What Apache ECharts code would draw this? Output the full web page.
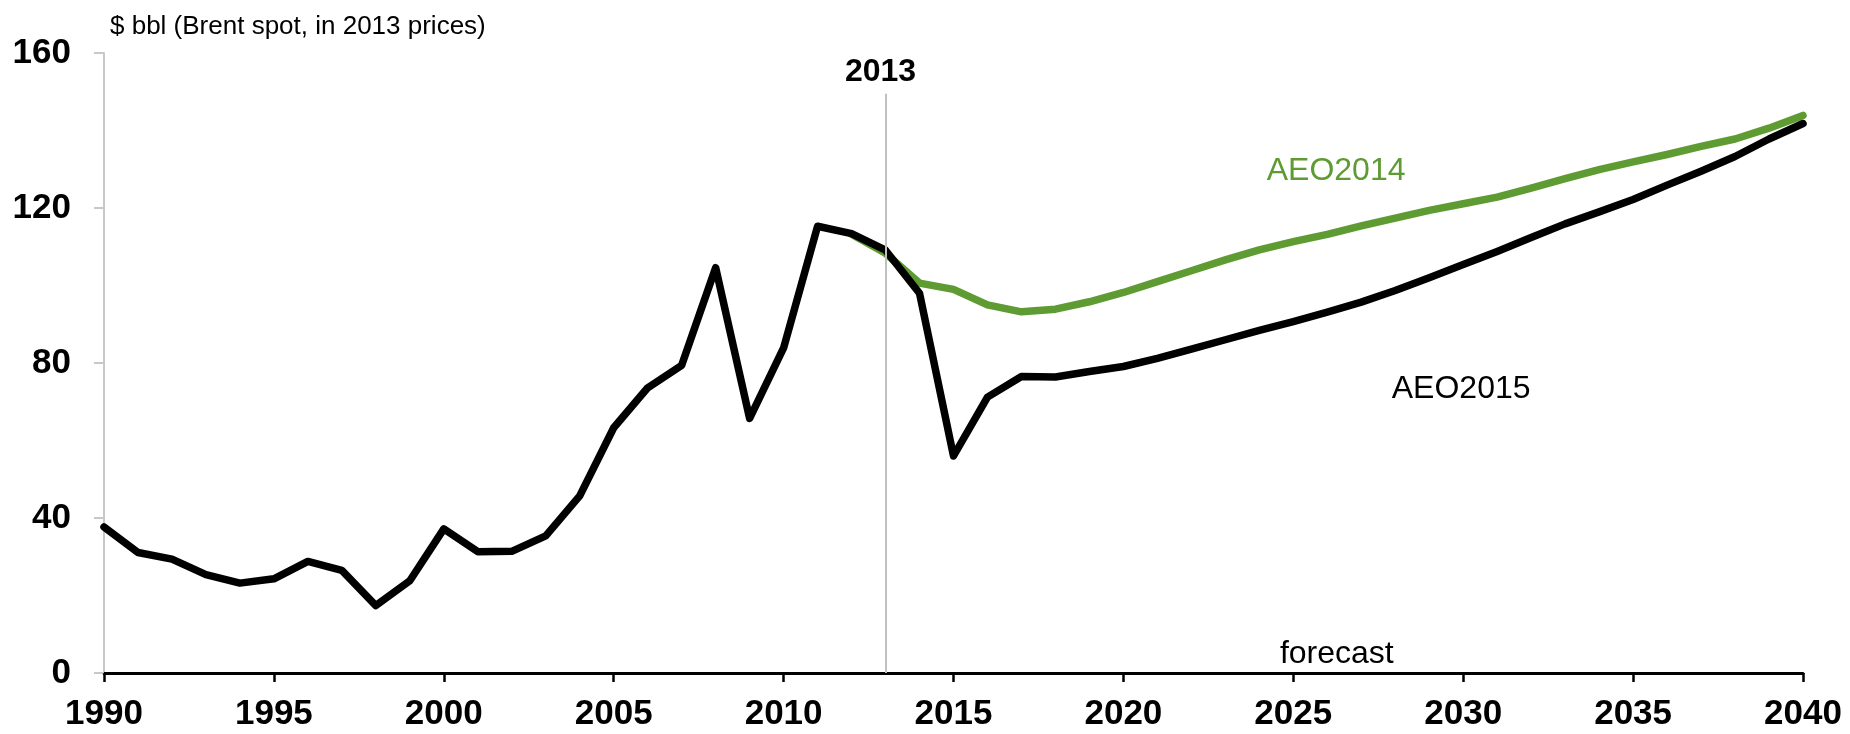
<!DOCTYPE html>
<html lang="en">
<head>
    <meta charset="UTF-8">
    <title>Brent spot price</title>
    <script src="https://cdn.jsdelivr.net/npm/echarts@6/dist/echarts.min.js"></script>
    <style>
        html, body { margin: 0; padding: 0; background: #fff; }
        #fig1 { width: 1850px; height: 734px; }
    </style>
</head>
<body>
    <div id="fig1"></div>
    <script>
        // years on the x axis
        let years = [];
        for (let y = 1990; y <= 2040; y++) years.push(y);

        // history 1990-2013 (black)
        let history = [37.7, 31.1, 29.4, 25.4, 23.2, 24.3, 28.8, 26.5, 17.4, 23.8,
            37.2, 31.3, 31.4, 35.4, 45.7, 63.3, 73.6, 79.4, 104.6, 65.7,
            83.9, 115.3, 113.4, 109.1];
        // AEO2015 forecast 2014-2040 (black)
        let aeo2015 = [98.0, 56.0, 71.2, 76.5, 76.4, 77.8, 79.1, 81.2, 83.6, 86.0,
            88.4, 90.7, 93.1, 95.7, 98.7, 102.0, 105.4, 108.8, 112.4, 115.9,
            119.0, 122.2, 125.9, 129.5, 133.3, 137.8, 141.8];
        // AEO2014 2012-2040 (green)
        let aeo2014Start = 2012;
        let aeo2014 = [113.2, 108.3, 100.6, 99.0, 95.0, 93.2, 93.9, 95.8, 98.2, 101.0,
            103.8, 106.6, 109.2, 111.3, 113.2, 115.4, 117.4, 119.4, 121.1, 122.8,
            125.1, 127.6, 129.9, 131.9, 133.8, 135.9, 137.8, 140.6, 143.9];

        let yTicks = [0, 40, 80, 120, 160];
        let baseYear = 2013;

        const FONT = '"Liberation Sans", Arial, sans-serif';
        const GREEN = '#5e9b32';

        let blackData = history.concat(aeo2015).map((v, i) => [years[i], v]);
        let greenData = aeo2014.map((v, i) => [aeo2014Start + i, v]);

        function note (text, coord, color, size, weight, offset) {
            return {
                coord: coord,
                symbol: 'circle',
                symbolSize: 1,
                itemStyle: { color: 'rgba(0,0,0,0)' },
                label: {
                    show: true,
                    position: 'inside',
                    formatter: text,
                    color: color,
                    fontFamily: FONT,
                    fontSize: size,
                    fontWeight: weight,
                    offset: offset || [0, 0]
                }
            };
        }

        let fig1 = echarts.init(document.getElementById('fig1'), null, {renderer: 'canvas'});
        fig1.setOption({
            animation: false,
            backgroundColor: '#fff',
            title: {
                text: '$ bbl (Brent spot, in 2013 prices)',
                left: 105,
                top: 9,
                textStyle: {
                    fontFamily: FONT,
                    fontSize: 26,
                    fontWeight: 'normal',
                    color: '#000'
                }
            },
            grid: {
                left: 104,
                right: 47,
                top: 53,
                bottom: 61,
                containLabel: false,
                outerBoundsMode: 'none'
            },
            xAxis: {
                type: 'value',
                min: 1990,
                max: 2040,
                interval: 5,
                splitLine: { show: false },
                axisLine: { show: true, lineStyle: { color: '#000', width: 3 } },
                axisTick: { show: true, length: 9, lineStyle: { color: '#000', width: 2.5 } },
                axisLabel: {
                    margin: 24,
                    color: '#000',
                    fontFamily: FONT,
                    fontSize: 35,
                    fontWeight: 'bold',
                    formatter: (v) => String(v)
                }
            },
            yAxis: {
                type: 'value',
                min: yTicks[0],
                max: yTicks[yTicks.length - 1],
                interval: 40,
                splitLine: { show: false },
                axisLine: { show: true, lineStyle: { color: '#c8c8c8', width: 2 } },
                axisTick: { show: true, length: 10, lineStyle: { color: '#c8c8c8', width: 2 } },
                axisLabel: {
                    margin: 33,
                    color: '#000',
                    fontFamily: FONT,
                    fontSize: 35,
                    fontWeight: 'bold'
                }
            },
            series: [
                {
                    name: 'AEO2014',
                    type: 'line',
                    data: greenData,
                    showSymbol: false,
                    symbol: 'none',
                    clip: false,
                    lineStyle: { color: GREEN, width: 7.5, join: 'round', cap: 'round' },
                    z: 2,
                    markLine: {
                        silent: true,
                        symbol: 'none',
                        label: { show: false },
                        lineStyle: { color: '#c0c0c0', width: 2, type: 'solid' },
                        data: [[{ coord: [baseYear, 0] }, { coord: [baseYear, 149.5] }]]
                    }
                },
                {
                    name: 'AEO2015',
                    type: 'line',
                    data: blackData,
                    showSymbol: false,
                    symbol: 'none',
                    clip: false,
                    lineStyle: { color: '#000', width: 7.5, join: 'round', cap: 'round' },
                    z: 3,
                    markPoint: {
                        silent: true,
                        data: [
                            note('2013', [baseYear, 155], '#000', 32, 'bold', [-5, 0]),
                            note('AEO2014', [2026.26, 129.5], GREEN, 32, 'normal'),
                            note('AEO2015', [2029.94, 73.3], '#000', 32, 'normal'),
                            note('forecast', [2026.28, 4.8], '#000', 32, 'normal')
                        ]
                    }
                }
            ]
        });
    </script>
</body>
</html>
